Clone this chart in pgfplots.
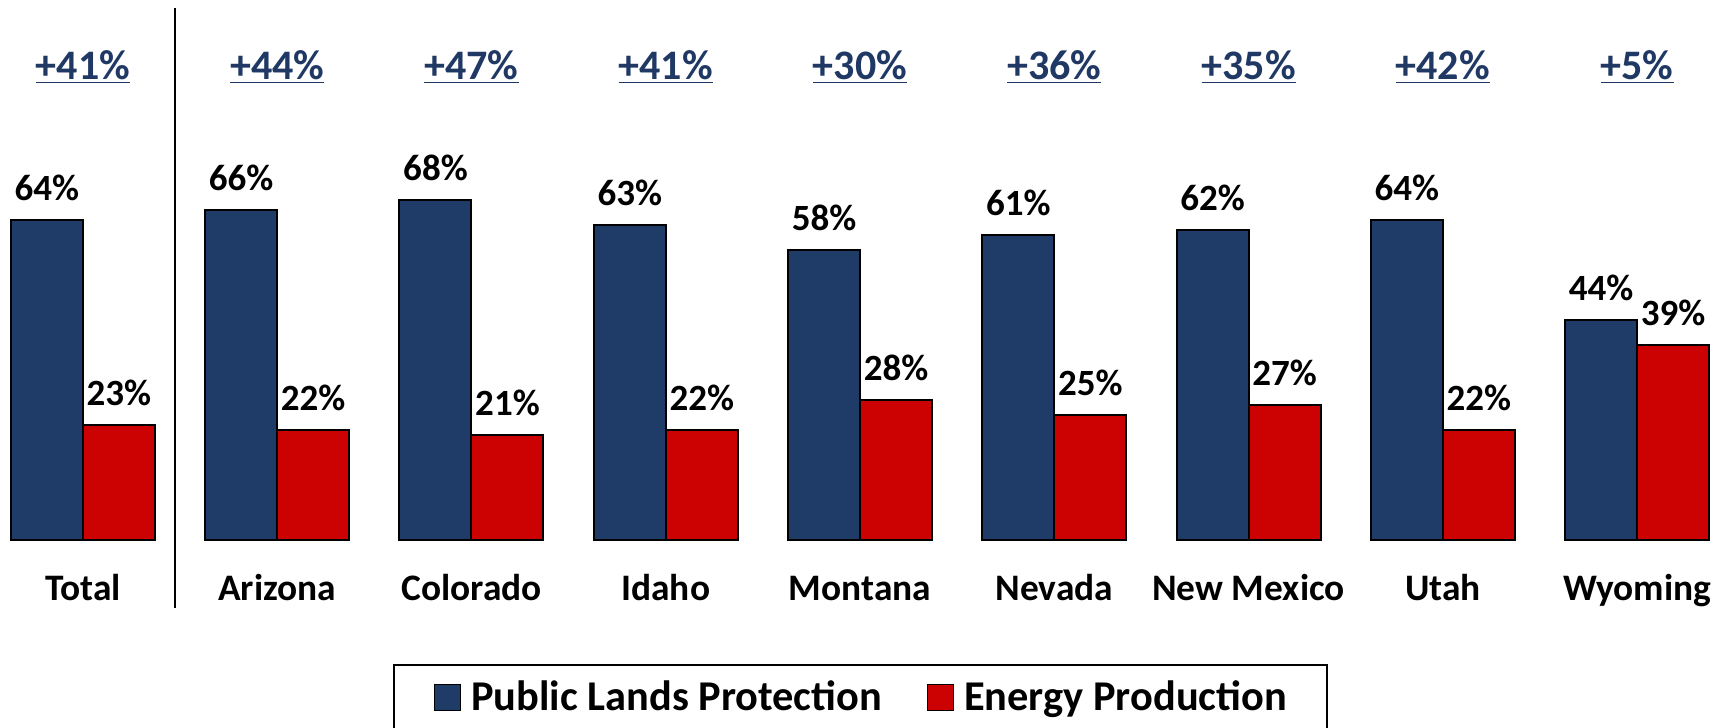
\documentclass[border=0pt]{standalone}
\usepackage{fontspec}
\setmainfont{Carlito}
\usepackage{pgfplots}
\pgfplotsset{compat=1.18}
\definecolor{barblue}{HTML}{1F3C68}
\definecolor{barred}{HTML}{CC0202}
\definecolor{labblue}{HTML}{1F3864}

\pgfplotsset{
  sqlegend/.style={legend image code/.code={
    \draw[##1, line width=0.6pt] (0pt,-6.5pt) rectangle (13pt,6.5pt);}},
}
\tikzset{toplab/.style={font=\fontsize{21}{24}\selectfont\bfseries, text=labblue, anchor=base}}

\begin{document}
\begin{tikzpicture}
\begin{axis}[
  scale only axis, width=860.5pt, height=270pt,
  xmin=-0.427, xmax=8.432, ymin=0, ymax=108,
  ybar=0pt, bar width=36pt,
  axis line style={draw=none}, major tick length=0pt,
  ytick=\empty, xtick={0,...,8},
  xticklabels={Total,Arizona,Colorado,Idaho,Montana,Nevada,New Mexico,Utah,Wyoming},
  xticklabel style={font=\fontsize{18.7}{20}\selectfont\bfseries, anchor=base, yshift=-30pt},
  /pgf/number format/assume math mode=true,
  nodes near coords={\pgfmathprintnumber{\pgfplotspointmeta}\%},
  every node near coord/.append style={font=\fontsize{18.5}{20}\selectfont\bfseries, text=black, yshift=6pt},
  clip=false,
  legend columns=2,
  legend cell align=left,
  legend style={at={(0.5,0)}, anchor=north, yshift=-62pt, draw=black, line width=0.8pt,
    inner xsep=20pt, inner ysep=8pt, font=\fontsize{21.2}{24}\selectfont\bfseries,
    nodes={inner sep=0pt}, column sep=5pt,
    /tikz/every even column/.append style={column sep=22.5pt}},
]
\addplot[fill=barblue, draw=black, line width=1pt, sqlegend] coordinates {
  (0,64) (1,66) (2,68) (3,63) (4,58) (5,61) (6,62) (7,64) (8,44)};
\addlegendentry{Public Lands Protection}
\addplot[fill=barred, draw=black, line width=1pt, sqlegend] coordinates {
  (0,23) (1,22) (2,21) (3,22) (4,28) (5,25) (6,27) (7,22) (8,39)};
\addlegendentry{Energy Production}

\draw[black, line width=1pt] (axis cs:0.474,106.4) -- (axis cs:0.474,-13.6);

\node[toplab] at (axis cs:0,92.2) {\underline{+41\%}};
\node[toplab] at (axis cs:1,92.2) {\underline{+44\%}};
\node[toplab] at (axis cs:2,92.2) {\underline{+47\%}};
\node[toplab] at (axis cs:3,92.2) {\underline{+41\%}};
\node[toplab] at (axis cs:4,92.2) {\underline{+30\%}};
\node[toplab] at (axis cs:5,92.2) {\underline{+36\%}};
\node[toplab] at (axis cs:6,92.2) {\underline{+35\%}};
\node[toplab] at (axis cs:7,92.2) {\underline{+42\%}};
\node[toplab] at (axis cs:8,92.2) {\underline{+5\%}};

\coordinate (tl) at (rel axis cs:0,1);
\coordinate (br) at (rel axis cs:1,0);
\end{axis}
\pgfresetboundingbox
\path[use as bounding box] (tl) rectangle ([yshift=-94pt]br);
\end{tikzpicture}
\end{document}
